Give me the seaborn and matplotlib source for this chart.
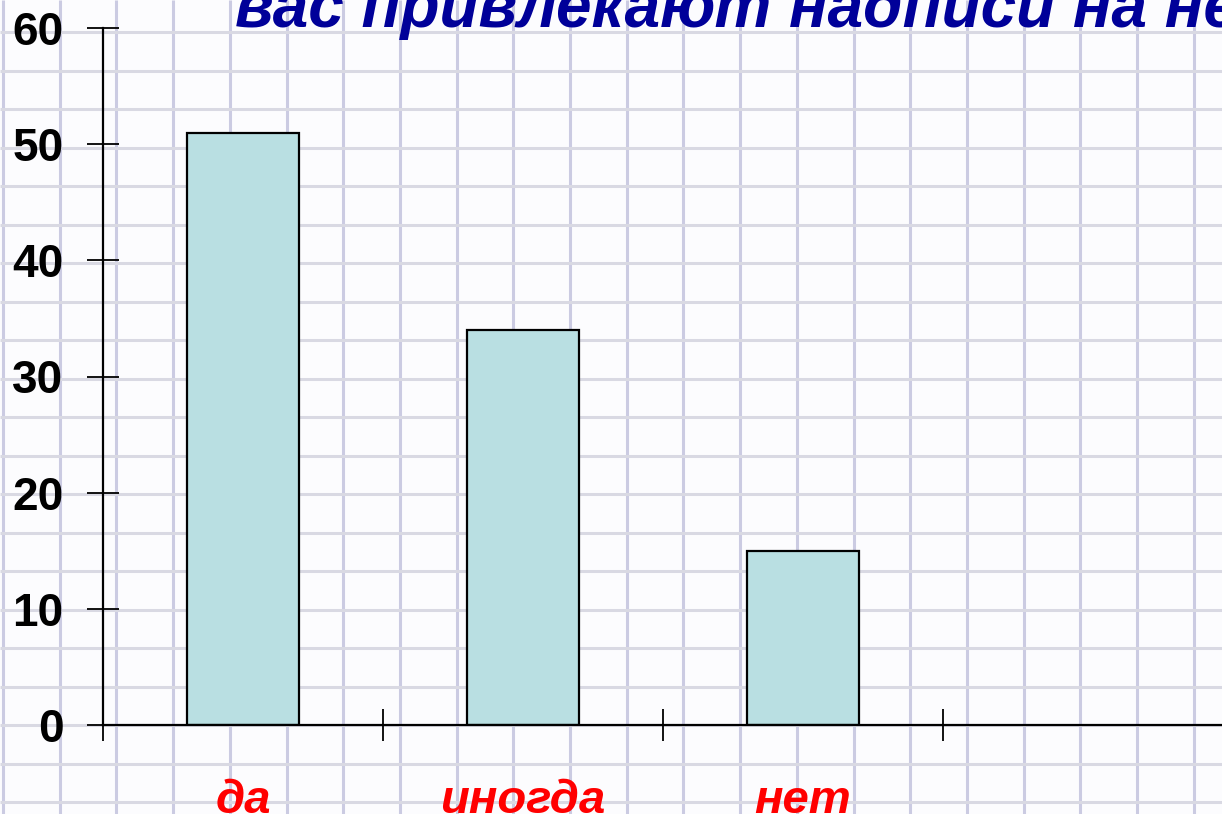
import numpy as np
import matplotlib
matplotlib.use("Agg")
import matplotlib.pyplot as plt
import seaborn as sns

# данные опроса
categories = ["да", "иногда", "нет"]
values = [51, 34, 15]
y_ticks = [0, 10, 20, 30, 40, 50, 60]
title_text = "вас привлекают надписи на неё?"

sns.set_theme(style="white")
plt.rcParams['font.family'] = ['Liberation Sans', 'DejaVu Sans']

W, H = 1222, 814
fig = plt.figure(figsize=(W / 100, H / 100), dpi=100)
fig.patch.set_facecolor("#fcfcfe")

# фон "тетрадь в клетку"
bg = fig.add_axes([0, 0, 1, 1], zorder=0)
bg.set_xlim(0, W)
bg.set_ylim(H, 0)
bg.axis("off")
bg.vlines(np.arange(3, W, 56.7), 0, H, color="#cbcbe2", lw=2.2)
bg.hlines(np.arange(32, H, 38.5), 0, W, color="#d9d9e3", lw=2.2)

# основной график
ax = fig.add_axes([103 / W, 1 - 725 / H, 1120 / W, (725 - 28) / H], zorder=1)
ax.set_facecolor("none")
sns.barplot(x=categories, y=values, color="#b9dfe2", edgecolor="black",
            linewidth=1.6, width=0.4, saturation=1, ax=ax)

ax.set_xlim(-0.5, 3.5)
ax.set_ylim(0, 60)
ax.set_yticks(y_ticks)
ax.set_yticklabels([str(t) for t in y_ticks], fontsize=33, fontweight="bold",
                   color="black")
ax.tick_params(axis="y", direction="inout", length=23, width=1.3, pad=17,
               color="black", left=True)
ax.set_xticks(range(len(categories)))
ax.set_xticklabels(categories, fontsize=34, fontweight="bold", style="italic",
                   color="#ff0000")
ax.tick_params(axis="x", which="major", length=0, pad=39)
ax.set_xticks(np.arange(-0.5, 3.6, 1), minor=True)
ax.tick_params(axis="x", which="minor", direction="inout", length=23,
               width=1.3, color="black", bottom=True)
ax.set_xlabel("")
ax.set_ylabel("")
for side in ["top", "right"]:
    ax.spines[side].set_visible(False)
for side in ["left", "bottom"]:
    ax.spines[side].set_color("black")
    ax.spines[side].set_linewidth(1.6)

fig.text(235 / W, 1 - 27 / H, title_text, fontsize=46, fontweight="bold",
         style="italic", color="#000099", ha="left", va="baseline")

fig.savefig("out.png", dpi=100, facecolor=fig.get_facecolor())
